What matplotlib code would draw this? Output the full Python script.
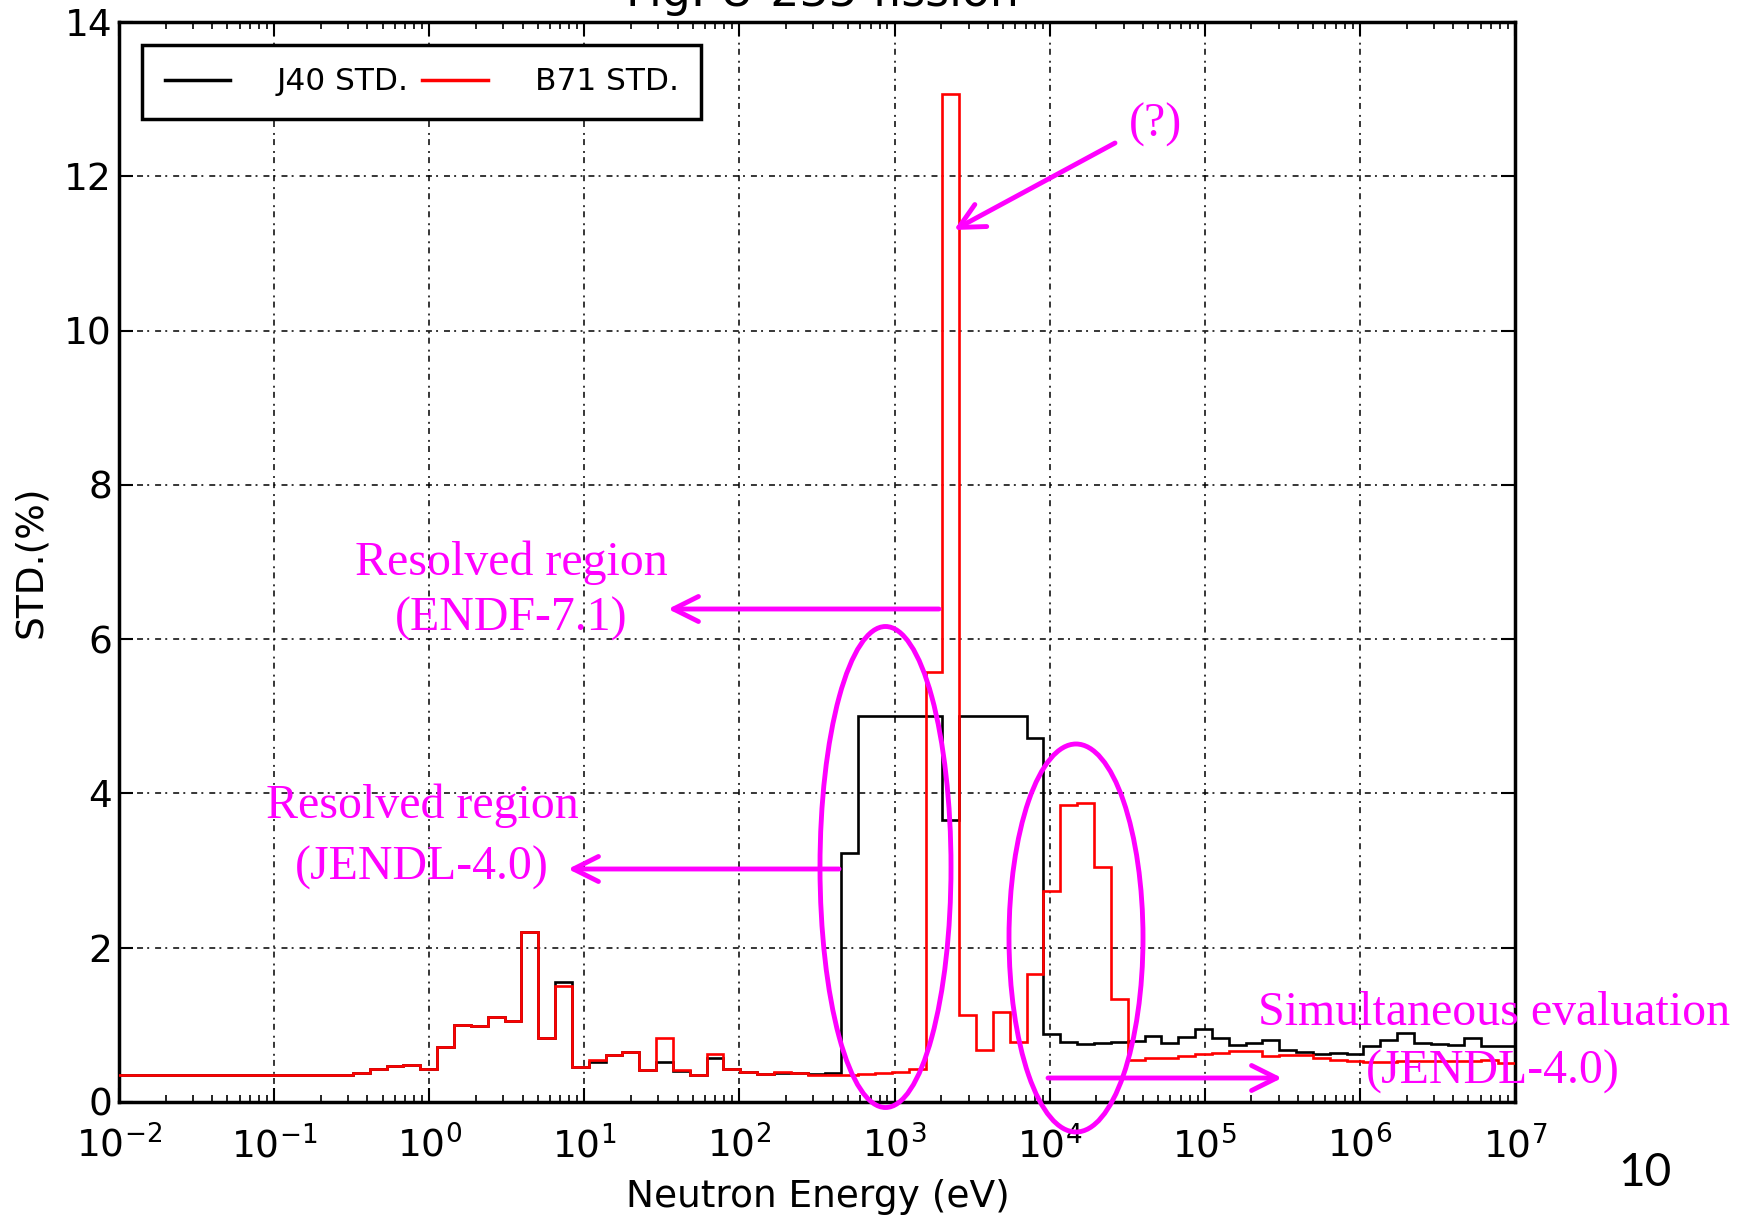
import numpy as np
import matplotlib
matplotlib.use('Agg')
import matplotlib.pyplot as plt
from matplotlib.lines import Line2D
from matplotlib.patches import Ellipse, FancyArrowPatch
from matplotlib.ticker import NullFormatter, FixedLocator

plt.rcParams['lines.scale_dashes'] = False
plt.rcParams['axes.unicode_minus'] = False

# 70-group energy structure (eV), ascending
energy_edges = [1e-5, 0.3224, 0.4140, 0.5316, 0.6825, 0.8764, 1.125, 1.445, 1.855, 2.382,
                3.059, 3.928, 5.043, 6.476, 8.315, 10.68, 13.71, 17.60, 22.60, 29.02,
                37.27, 47.85, 61.44, 78.89, 101.3, 130.1, 167.0, 214.5, 275.4, 353.6,
                454.0, 582.9, 748.5, 961.1, 1234.0, 1585.0, 2035.0, 2613.0, 3355.0, 4307.0,
                5531.0, 7102.0, 9119.0, 11710.0, 15030.0, 19310.0, 24790.0, 31830.0, 40870.0, 52480.0,
                67380.0, 86520.0, 111100.0, 142600.0, 183200.0, 235200.0, 302000.0, 387700.0, 497900.0, 639300.0,
                820800.0, 1054000.0, 1353000.0, 1738000.0, 2231000.0, 2865000.0, 3679000.0, 4724000.0, 6065000.0, 7788000.0,
                1.0e7]

j40_std = [0.35, 0.37, 0.43, 0.47, 0.48, 0.43, 0.71, 1.00, 0.98, 1.10,
           1.05, 2.20, 0.83, 1.55, 0.46, 0.52, 0.61, 0.65, 0.41, 0.52,
           0.40, 0.35, 0.57, 0.43, 0.39, 0.36, 0.38, 0.37, 0.36, 0.37,
           3.23, 5.00, 5.00, 5.00, 5.00, 5.00, 3.65, 5.00, 5.00, 5.00,
           5.00, 4.72, 0.88, 0.78, 0.75, 0.77, 0.78, 0.79, 0.86, 0.77,
           0.84, 0.94, 0.83, 0.74, 0.76, 0.80, 0.67, 0.65, 0.62, 0.64,
           0.62, 0.72, 0.80, 0.89, 0.77, 0.75, 0.74, 0.83, 0.73, 0.73]

b71_std = [0.35, 0.37, 0.43, 0.47, 0.48, 0.43, 0.71, 1.00, 0.98, 1.10,
           1.05, 2.20, 0.83, 1.51, 0.46, 0.55, 0.61, 0.65, 0.41, 0.83,
           0.41, 0.35, 0.62, 0.43, 0.39, 0.36, 0.39, 0.37, 0.35, 0.35,
           0.35, 0.36, 0.38, 0.39, 0.43, 5.57, 13.07, 1.13, 0.68, 1.17,
           0.78, 1.66, 2.73, 3.85, 3.88, 3.04, 1.34, 0.55, 0.57, 0.57,
           0.60, 0.62, 0.64, 0.66, 0.66, 0.59, 0.61, 0.61, 0.57, 0.54,
           0.53, 0.52, 0.52, 0.53, 0.53, 0.53, 0.53, 0.53, 0.55, 0.50]

series_labels = ['J40 STD.', 'B71 STD.']
x_ticks = [1e-2, 1e-1, 1e0, 1e1, 1e2, 1e3, 1e4, 1e5, 1e6, 1e7]
y_ticks = [0, 2, 4, 6, 8, 10, 12, 14]

W, H = 1749, 1218
fig = plt.figure(figsize=(W / 100, H / 100), dpi=100)
ax = fig.add_axes([119 / W, 1 - 1102 / H, (1515 - 119) / W, (1102 - 22) / H])

ax.set_xscale('log')
ax.stairs(j40_std, energy_edges, color='black', lw=1.9, baseline=None, zorder=3)
ax.stairs(b71_std, energy_edges, color='#ff0000', lw=1.9, baseline=None, zorder=4)
ax.set_xlim(1e-2, 1e7)
ax.set_ylim(0, 14)
ax.xaxis.set_major_locator(FixedLocator(x_ticks))
ax.yaxis.set_major_locator(FixedLocator(y_ticks))
ax.xaxis.set_minor_formatter(NullFormatter())

ax.grid(True, which='major', color='black', linestyle=(0, (4.3, 3.0, 1.4, 4.3)), linewidth=1.1)
ax.set_axisbelow(True)
ax.tick_params(which='both', direction='in', top=True, right=True)
ax.tick_params(which='major', length=10, width=1.5, labelsize=27)
ax.tick_params(which='minor', length=5, width=1.2)
ax.tick_params(axis='x', which='major', pad=17)
ax.tick_params(axis='y', which='major', pad=5)
for s in ax.spines.values():
    s.set_linewidth(2.5)

ax.set_xlabel('Neutron Energy (eV)', fontsize=27)
ax.set_ylabel('STD.(%)', fontsize=27)
ax.xaxis.set_label_coords(0.5007, -0.0715)
ax.yaxis.set_label_coords(-0.050, 0.5)

handles = [Line2D([], [], color='black', lw=2.5), Line2D([], [], color='#ff0000', lw=2.5)]
leg = ax.legend(handles, series_labels, loc='upper left', bbox_to_anchor=(23 / 1396, 1 - 23 / 1080),
                borderaxespad=0, ncol=2, fontsize=22.5, handlelength=2.1, handletextpad=1.5,
                columnspacing=0.42, borderpad=0.72, fancybox=False, framealpha=1)
leg.get_frame().set_edgecolor('black')
leg.get_frame().set_linewidth(2.5)

# title (cut at the top edge)
fig.text(822 / W, 1 - 6 / H, 'Fig. U-235 fission', ha='center', va='baseline', fontsize=33)

MAG = '#ff00ff'
def fp(x, y):
    return (x / W, 1 - y / H)

serif = ['Liberation Serif', 'DejaVu Serif']
def mtext(x, y, s):
    fig.text(*fp(x, y), s, ha='center', va='center', fontsize=34.5, color=MAG, family=serif, zorder=10)

mtext(1156, 125, '(?)')
mtext(511, 563, 'Resolved region')
mtext(511, 619, '(ENDF-7.1)')
mtext(422, 806, 'Resolved region')
mtext(422, 868, '(JENDL-4.0)')
mtext(1494, 1013, 'Simultaneous evaluation')
mtext(1493, 1072, '(JENDL-4.0)')

def arrow(x0, y0, x1, y1):
    a = FancyArrowPatch(fp(x0, y0), fp(x1, y1), transform=fig.transFigure,
                        arrowstyle='->,head_length=0.9,head_width=0.45', mutation_scale=20,
                        lw=3.5, color=MAG, shrinkA=0, shrinkB=0, zorder=10)
    fig.add_artist(a)

arrow(1115, 143, 954, 230)
arrow(939, 609, 668, 609)
arrow(839, 869, 568, 869)
arrow(1048, 1078, 1282, 1078)

for cx, cy, w, h in [(885.5, 867, 131, 481), (1076, 938, 134, 388)]:
    e = Ellipse(fp(cx, cy), w / W, h / H, transform=fig.transFigure, fill=False,
                ec=MAG, lw=3.5, zorder=10)
    fig.add_artist(e)

fig.text(*fp(1645, 1173), '10', ha='center', va='center', fontsize=33, family=['Lato', 'DejaVu Sans'])

fig.savefig('out.png', dpi=100)
